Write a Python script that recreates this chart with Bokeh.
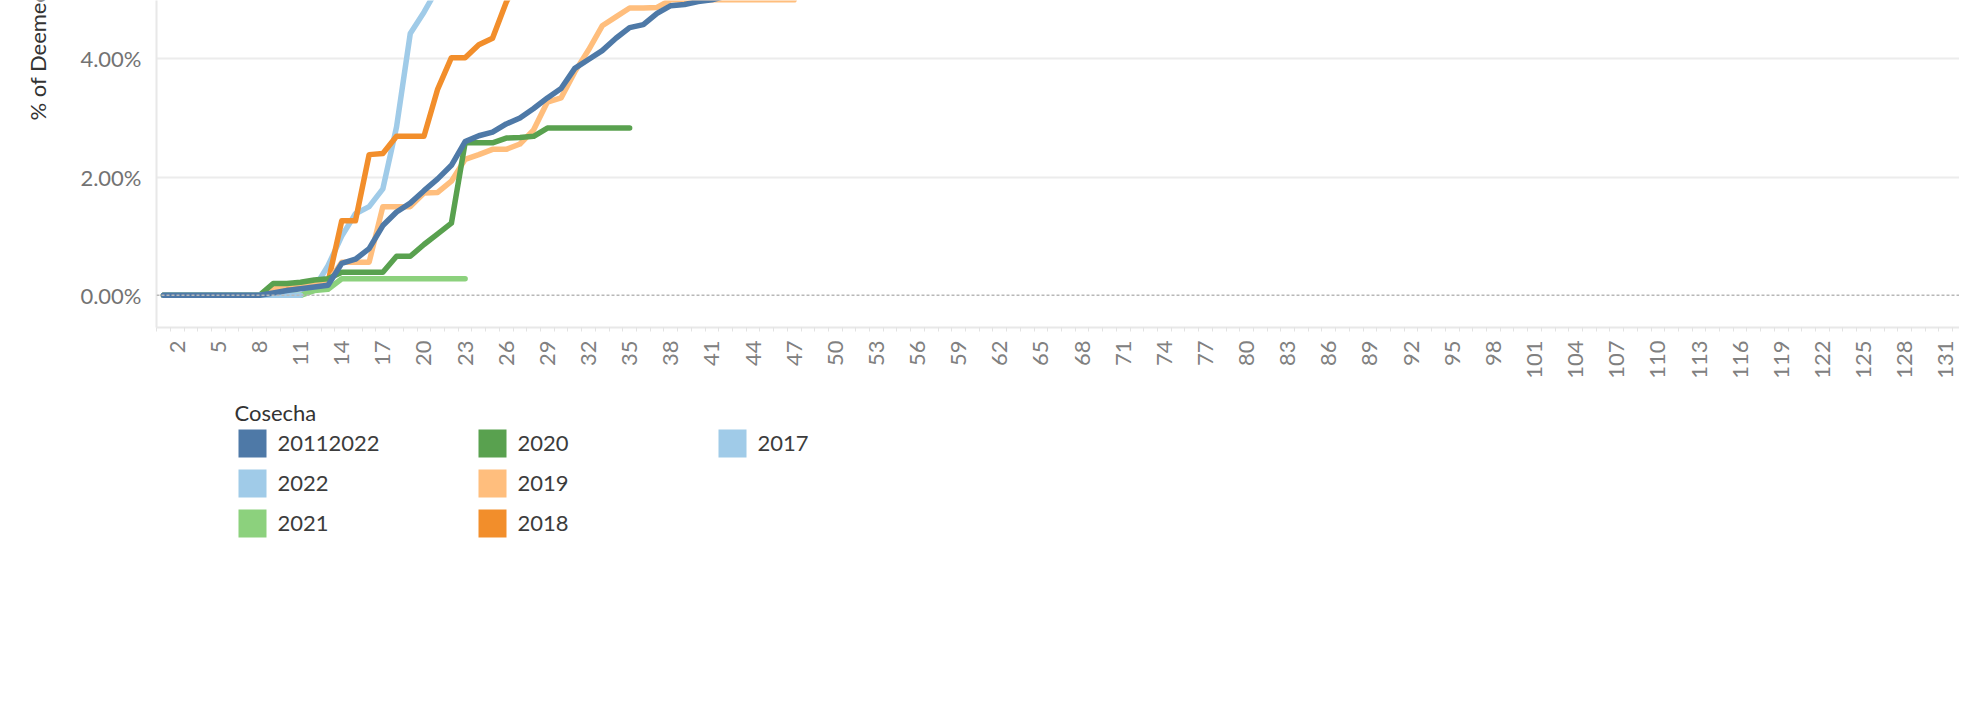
import math
from bokeh.plotting import figure
from bokeh.models import Range1d, FixedTicker, PrintfTickFormatter, Span, ColumnDataSource
from bokeh.layouts import gridplot
from bokeh.core.properties import value
from bokeh.embed import file_html
from bokeh.resources import INLINE

# ---------------- data (percent values, by week index starting at 1) ----------------
series_names = ["20112022", "2022", "2021", "2020", "2019", "2018", "2017"]
series_colors = ["#4e79a7", "#a0cbe8", "#8cd17d", "#59a14f", "#ffbe7d", "#f28e2b", "#a0cbe8"]

s_20112022 = [0, 0, 0, 0, 0, 0, 0, 0, 0.04, 0.08, 0.11, 0.14, 0.17, 0.54, 0.61, 0.79,
              1.18, 1.41, 1.56, 1.77, 1.97, 2.20, 2.60, 2.70, 2.76, 2.90, 3.00, 3.16,
              3.34, 3.50, 3.84, 3.99, 4.14, 4.35, 4.53, 4.58, 4.77, 4.90, 4.92, 4.97,
              5.00, 5.06]
s_2022 = [0, 0, 0, 0, 0, 0, 0, 0, 0, 0, 0]
s_2021 = [0, 0, 0, 0, 0, 0, 0, 0, 0, 0, 0, 0.08, 0.10, 0.28, 0.28, 0.28, 0.28, 0.28,
          0.28, 0.28, 0.28, 0.28, 0.28]
s_2020 = [0, 0, 0, 0, 0, 0, 0, 0, 0.20, 0.20, 0.22, 0.26, 0.28, 0.39, 0.39, 0.39, 0.39,
          0.66, 0.66, 0.86, 1.04, 1.22, 2.58, 2.58, 2.58, 2.66, 2.67, 2.69, 2.83, 2.83,
          2.83, 2.83, 2.83, 2.83, 2.83]
s_2019 = [0, 0, 0, 0, 0, 0, 0, 0, 0.10, 0.18, 0.20, 0.20, 0.22, 0.56, 0.56, 0.56, 1.50,
          1.50, 1.50, 1.73, 1.74, 1.93, 2.30, 2.38, 2.47, 2.47, 2.56, 2.80, 3.27, 3.34,
          3.78, 4.15, 4.56, 4.71, 4.86, 4.86, 4.87, 5.00, 5.00, 5.00, 5.00, 5.00, 5.00,
          5.00, 5.00, 5.00, 5.00]
s_2018 = [0, 0, 0, 0, 0, 0, 0, 0, 0.12, 0.17, 0.18, 0.20, 0.22, 1.26, 1.26, 2.38, 2.40,
          2.69, 2.69, 2.69, 3.49, 4.02, 4.02, 4.24, 4.35, 4.96, 5.40]
s_2017 = [0, 0, 0, 0, 0, 0, 0, 0, 0, 0, 0, 0.12, 0.50, 1.00, 1.38, 1.50, 1.80, 2.85,
          4.43, 4.79, 5.20]

series_values = [s_20112022, s_2022, s_2021, s_2020, s_2019, s_2018, s_2017]

x_tick_labels = list(range(2, 132, 3))
y_ticks = [0, 2, 4]
y_title = "% of Deemed Default"
legend_title = "Cosecha"

FONT = "Lato"

# layout constants (pixels)
TITLE_W = 60
FRAME_L = 156
FRAME_W = 1959 - FRAME_L
FRAME_H = 327
BOTTOM = 63

# ---------------- main chart ----------------
p = figure(frame_width=FRAME_W, frame_height=FRAME_H,
           min_border_left=FRAME_L - TITLE_W, min_border_right=0, min_border_top=0,
           min_border_bottom=BOTTOM,
           x_range=Range1d(0.49, 132.0), y_range=Range1d(-0.545, 4.988),
           output_backend="svg", toolbar_location=None)
p.outline_line_color = None
p.background_fill_color = "white"
p.border_fill_color = "white"

# x axis
p.xaxis.ticker = FixedTicker(ticks=x_tick_labels, minor_ticks=[k + 0.5 for k in range(0, 133)])
p.xaxis.major_tick_out = 0
p.xaxis.major_tick_in = 0
p.xaxis.minor_tick_out = 4
p.xaxis.minor_tick_in = 0
p.xaxis.minor_tick_line_color = "#e3e3e3"
p.xaxis.major_label_orientation = math.pi / 2
p.xaxis.major_label_standoff = 9
p.xaxis.major_label_text_font = FONT
p.xaxis.major_label_text_font_size = "22px"
p.xaxis.major_label_text_color = "#808080"
p.xaxis.axis_line_color = "#e8e8e8"
p.xaxis.axis_line_width = 2

# y axis
p.yaxis.ticker = FixedTicker(ticks=y_ticks)
p.yaxis.formatter = PrintfTickFormatter(format="%.2f%%")
p.yaxis.major_tick_out = 0
p.yaxis.major_tick_in = 0
p.yaxis.minor_tick_line_color = None
p.yaxis.major_label_standoff = 15
p.yaxis.major_label_text_font = FONT
p.yaxis.major_label_text_font_size = "22px"
p.yaxis.major_label_text_color = "#737373"
p.yaxis.axis_line_color = "#e8e8e8"
p.yaxis.axis_line_width = 2

p.xgrid.grid_line_color = None
p.ygrid.ticker = FixedTicker(ticks=[2, 4])
p.ygrid.grid_line_color = "#ececec"
p.ygrid.grid_line_width = 2

zero = Span(location=0, dimension="width", line_color="#b8b8b8", line_dash="3 2", line_width=1.5)
p.add_layout(zero)

# lines: draw last legend item first so the first is on top
for name, color, vals in reversed(list(zip(series_names, series_colors, series_values))):
    xs = list(range(1, len(vals) + 1))
    src = ColumnDataSource(dict(x=xs, y=vals))
    p.line("x", "y", source=src, line_color=color, line_width=5.5,
           line_cap="round", line_join="round")

# ---------------- y-axis title (own panel, clipped at the top like the reference) ----------------
t = figure(frame_width=TITLE_W, frame_height=FRAME_H, min_border_left=0, min_border_right=0,
           min_border_top=0, min_border_bottom=BOTTOM,
           x_range=Range1d(0, TITLE_W), y_range=Range1d(0, FRAME_H),
           x_axis_location=None, y_axis_location=None,
           output_backend="svg", toolbar_location=None)
t.outline_line_color = None
t.xgrid.grid_line_color = None
t.ygrid.grid_line_color = None
t.text(x=[37], y=[FRAME_H - 120], text=[y_title], angle=math.pi / 2,
       text_align="left", text_baseline="middle",
       text_font=value(FONT), text_font_size="22px", text_color="#333333")

# ---------------- legend ----------------
LH = 170
p2 = figure(frame_width=FRAME_W, frame_height=LH, min_border_left=FRAME_L - TITLE_W,
            min_border_right=0, min_border_top=0, min_border_bottom=0,
            x_range=Range1d(0, FRAME_W), y_range=Range1d(LH, 0),
            x_axis_location=None, y_axis_location=None,
            output_backend="svg", toolbar_location=None)
p2.outline_line_color = None
p2.xgrid.grid_line_color = None
p2.ygrid.grid_line_color = None

cols = [i // 3 for i in range(len(series_names))]
rows = [i % 3 for i in range(len(series_names))]
leg = ColumnDataSource(dict(
    sx=[96 + c * 240 for c in cols],
    tx=[121 + c * 240 for c in cols],
    y=[53 + r * 40 for r in rows],
    name=series_names,
    color=series_colors,
))
p2.rect("sx", "y", width=28, height=28, width_units="screen", height_units="screen",
        source=leg, fill_color="color", line_color=None)
p2.text("tx", "y", text="name", source=leg, text_baseline="middle", text_align="left",
        text_font=value(FONT), text_font_size="22px", text_color="#3c3c3c")
p2.text(x=[78], y=[22], text=[legend_title], text_baseline="middle", text_align="left",
        text_font=value(FONT), text_font_size="22px", text_color="#333333")

layout = gridplot([[t, p], [None, p2]], toolbar_location=None)
open("out.html", "w").write(file_html(layout, INLINE))
